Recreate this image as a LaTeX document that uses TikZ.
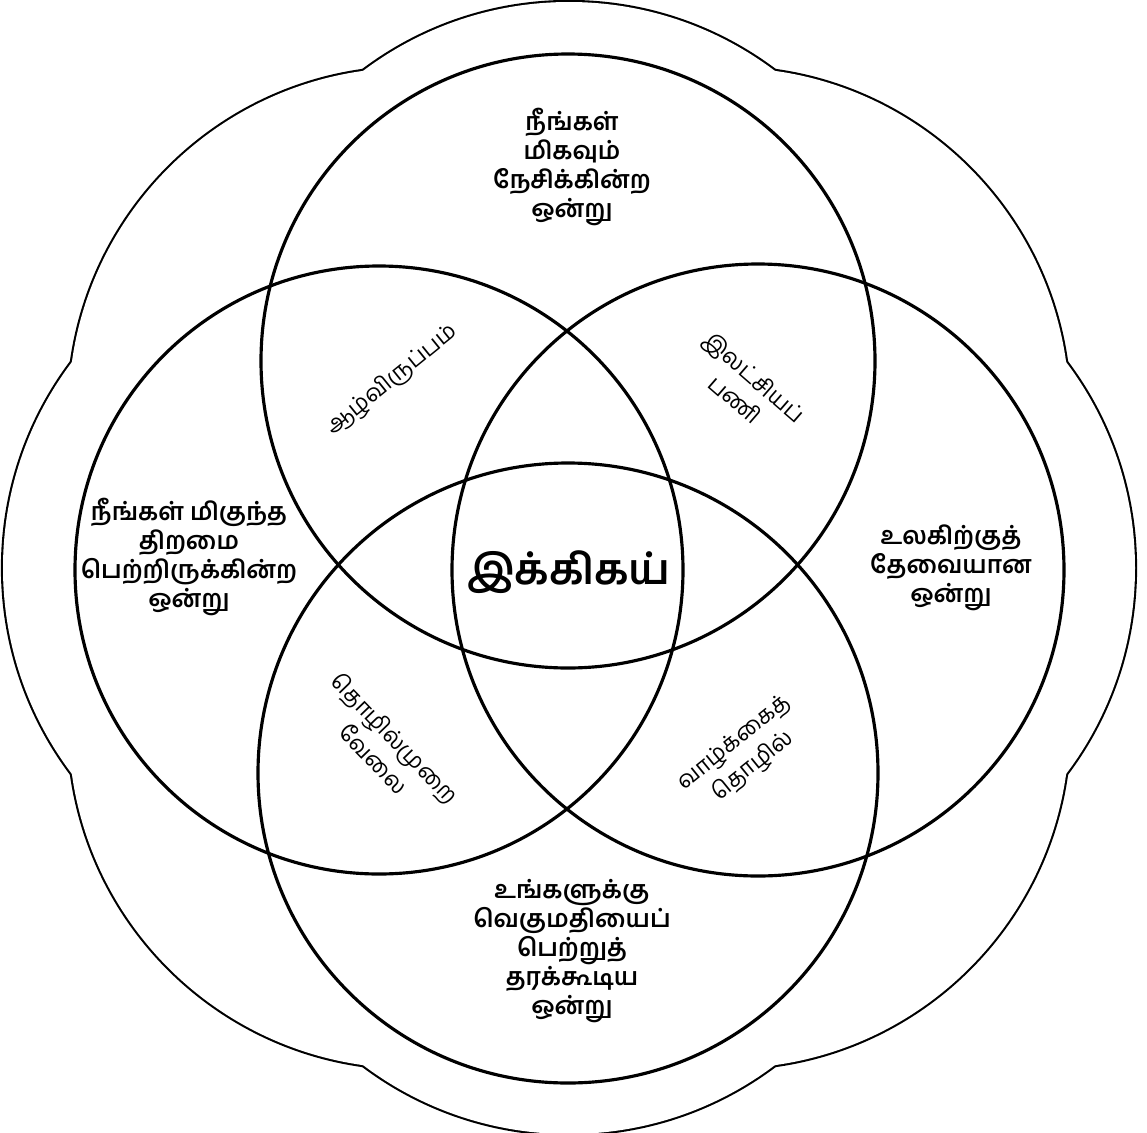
\documentclass[tikz,border=0pt]{standalone}
\usepackage{fontspec}
\newfontfamily\tamilfont[Script=Tamil]{Hind Madurai}

\begin{document}
\begin{tikzpicture}[
  x=0.02cm, y=-0.02cm,
  ring/.style={draw, line width=1.8pt},
  lobe/.style={draw, line width=2.4pt},
  part/.style={font=\tamilfont\bfseries\fontsize{14}{16.5}\selectfont, align=center, inner sep=0pt},
  mix/.style={font=\tamilfont\fontsize{13}{17}\selectfont, align=center, inner sep=0pt},
  core/.style={font=\tamilfont\bfseries\fontsize{24}{28}\selectfont, inner sep=0pt}]
  \useasboundingbox[fill=white] (0,0) rectangle (1147,1133);
  \coordinate (mid) at (569,568);
  % outer lobes -- eight circles, inner half of the outline covered
  \foreach \a in {0,45,...,315}
    \draw[lobe] ([shift={(\a:224)}]mid) circle (342);
  \foreach \a in {0,45,...,315}
    \fill[white] ([shift={(\a:224)}]mid) circle (342);
  % the four circles
  \draw[ring] (568,361) circle (307);
  \draw[ring] (379,570) circle (304);
  \draw[ring] (758,570) circle (306);
  \draw[ring] (568,773) circle (310);
  % one thing per circle
  \node[part] (love) at (572,167) {நீங்கள்\\மிகவும்\\நேசிக்கின்ற\\ஒன்று};
  \node[part] (good) at (189,557) {நீங்கள் மிகுந்த\\திறமை\\பெற்றிருக்கின்ற\\ஒன்று};
  \node[part] (need) at (951,568) {உலகிற்குத்\\தேவையான\\ஒன்று};
  \node[part] (paid) at (572,951) {உங்களுக்கு\\வெகுமதியைப்\\பெற்றுத்\\தரக்கூடிய\\ஒன்று};
  % overlaps
  \node[mix, rotate=39] (passion) at (392,380) {ஆழ்விருப்பம்};
  \node[mix, rotate=-41] (mission) at (745,388) {இலட்சியப்\\பணி};
  \node[mix, rotate=-46] (profession) at (385,748) {தொழில்முறை\\வேலை};
  \node[mix, rotate=39] (vocation) at (744,755) {வாழ்க்கைத்\\தொழில்};
  \node[core] (ikigai) at (569,572) {இக்கிகய்};
\end{tikzpicture}
\end{document}
